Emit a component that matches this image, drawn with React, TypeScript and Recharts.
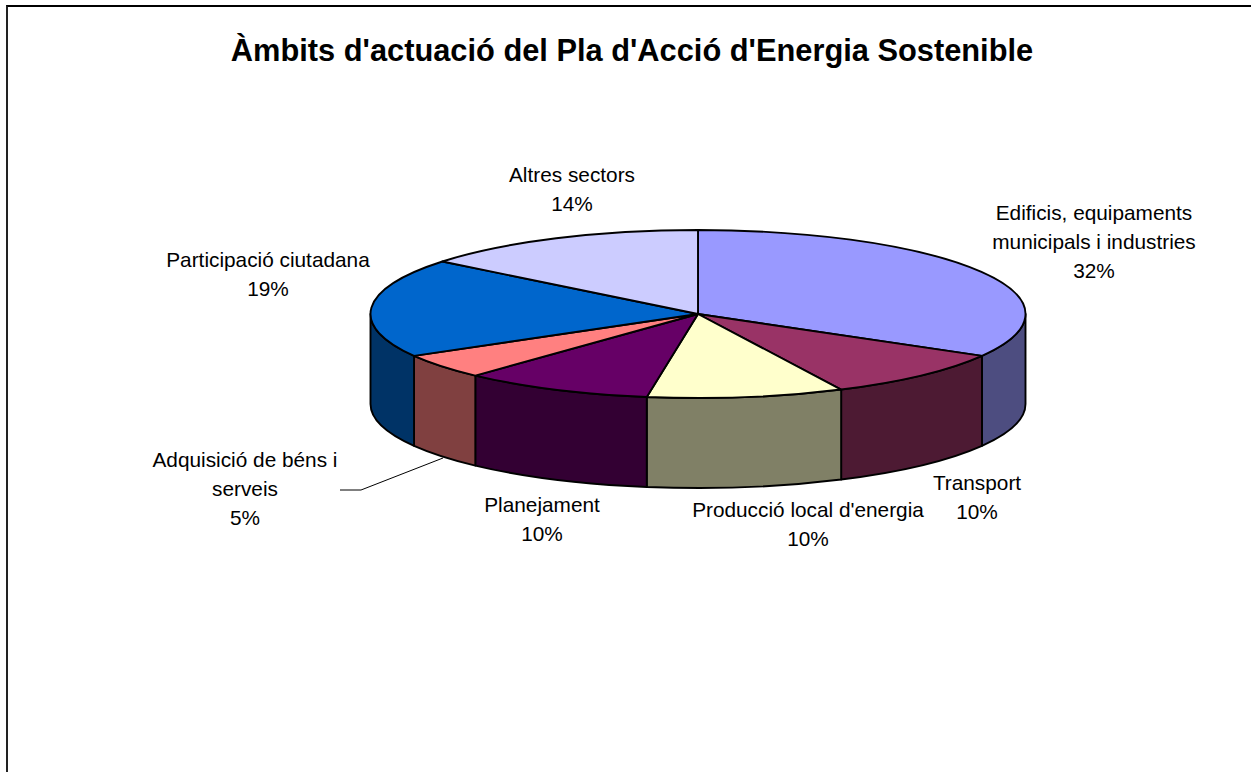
import { Pie, PieChart } from "recharts"

const categories = [
  ["Edificis, equipaments", "municipals i industries"],
  ["Transport"],
  ["Producció local d'energia"],
  ["Planejament"],
  ["Adquisició de béns i", "serveis"],
  ["Participació ciutadana"],
  ["Altres sectors"],
]
// slice sizes as drawn (the 3D view skews them a little from the printed percentages)
const sliceValues = [33.3, 9.5, 9.7, 9.4, 4.8, 19.05, 14.25]
const percentLabels = ["32%", "10%", "10%", "10%", "5%", "19%", "14%"]
const topColors = ["#9999FF", "#993366", "#FFFFCC", "#660066", "#FF8080", "#0066CC", "#CCCCFF"]
const wallColors = ["#4D4D80", "#4D1A33", "#808066", "#330033", "#804040", "#003366", "#666680"]

// where each data label sits: centre x, y of the first line's baseline
const labelAnchors = [
  [1094, 220],
  [977, 490],
  [808, 517],
  [542, 512],
  [245, 467],
  [268, 267],
  [572, 182],
]

const topData = sliceValues.map((value, i) => ({ name: categories[i].join(" "), value, fill: topColors[i] }))
const wallData = sliceValues.map((value, i) => ({ name: categories[i].join(" "), value, fill: wallColors[i] }))

const FONT = "'Liberation Sans', Arial, sans-serif"
const SQUASH = 84 / 327.5
const DEPTH = 90
const OUTLINE = 1.9

const point = (cx: number, cy: number, r: number, deg: number) => {
  const a = (deg * Math.PI) / 180
  return [cx + r * Math.cos(a), cy - r * SQUASH * Math.sin(a)]
}

function TopSlice(props: any) {
  const { cx, cy, outerRadius: r, startAngle, endAngle, fill } = props
  const [x0, y0] = point(cx, cy, r, startAngle)
  const [x1, y1] = point(cx, cy, r, endAngle)
  const large = Math.abs(startAngle - endAngle) > 180 ? 1 : 0
  const d = `M${cx},${cy} L${x0},${y0} A${r},${r * SQUASH} 0 ${large} 1 ${x1},${y1} Z`
  return <path d={d} fill={fill} stroke="#000" strokeWidth={OUTLINE} strokeLinejoin="round" />
}

function WallSlice(props: any) {
  const { cx, cy, outerRadius: r, startAngle, endAngle, fill } = props
  // only the front half of the rim is visible (0 to -180 degrees)
  const from = Math.min(startAngle, 0)
  const to = Math.max(endAngle, -180)
  if (from <= to) return <g />
  const [x0, y0] = point(cx, cy, r, from)
  const [x1, y1] = point(cx, cy, r, to)
  const ry = r * SQUASH
  const d = `M${x0},${y0} A${r},${ry} 0 0 1 ${x1},${y1} L${x1},${y1 + DEPTH} A${r},${ry} 0 0 0 ${x0},${y0 + DEPTH} Z`
  return <path d={d} fill={fill} stroke="#000" strokeWidth={OUTLINE} strokeLinejoin="round" />
}

function SliceLabel(props: any) {
  const { index } = props
  const [x, y] = labelAnchors[index]
  const lines = [...categories[index], percentLabels[index]]
  return (
    <g>
      {index === 4 && <polyline points="340,490 361,490 443,458" fill="none" stroke="#000" strokeWidth={1} />}
      <text x={x} y={y} textAnchor="middle" fontFamily={FONT} fontSize={20.8} fill="#000">
        {lines.map((line, i) => (
          <tspan key={line} x={x} dy={i === 0 ? 0 : 29}>
            {line}
          </tspan>
        ))}
      </text>
    </g>
  )
}

export default function App() {
  return (
    <div style={{ position: "absolute", left: 0, top: 0, width: 1251, height: 772, background: "#fff", overflow: "hidden" }}>
      <div
        style={{
          position: "absolute",
          left: 6,
          top: 5,
          width: 1245,
          height: 767,
          boxSizing: "border-box",
          borderTop: "2px solid #000",
          borderLeft: "2px solid #222",
        }}
      />
      <div
        style={{
          position: "absolute",
          left: 0,
          top: 33,
          width: 1264,
          textAlign: "center",
          fontFamily: FONT,
          fontWeight: "bold",
          fontSize: 30.8,
          color: "#000",
          whiteSpace: "nowrap",
        }}
      >
        Àmbits d'actuació del Pla d'Acció d'Energia Sostenible
      </div>
      <div style={{ position: "absolute", left: 0, top: 0 }}>
        <PieChart width={1251} height={772} margin={{ top: 0, right: 0, bottom: 0, left: 0 }}>
          <Pie
            data={wallData}
            dataKey="value"
            cx={698}
            cy={314}
            innerRadius={0}
            outerRadius={327.5}
            startAngle={90}
            endAngle={-270}
            shape={WallSlice}
            label={false}
            labelLine={false}
            isAnimationActive={false}
          />
          <Pie
            data={topData}
            dataKey="value"
            cx={698}
            cy={314}
            innerRadius={0}
            outerRadius={327.5}
            startAngle={90}
            endAngle={-270}
            shape={TopSlice}
            label={SliceLabel}
            labelLine={false}
            isAnimationActive={false}
          />
        </PieChart>
      </div>
    </div>
  )
}
